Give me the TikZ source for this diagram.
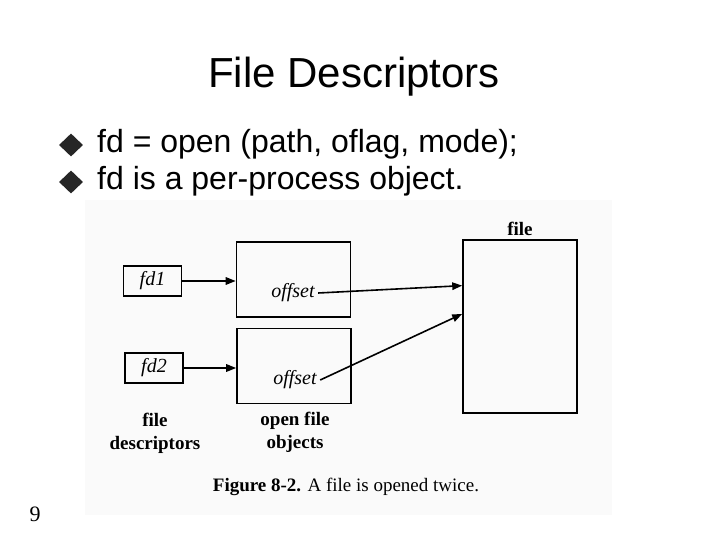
\documentclass[tikz,border=0pt]{standalone}
\usepackage{fontspec}
\setmainfont{Liberation Serif}
\newfontfamily\slidefont{Liberation Sans}
\usetikzlibrary{arrows.meta,positioning,calc,shapes.geometric}

\begin{document}
\begin{tikzpicture}[
  x=1pt,y=-1pt,
  font=\fontsize{19}{22}\selectfont,
  fdbox/.style={draw,line width=1.6pt,minimum width=58pt,minimum height=30pt,inner sep=0pt,font=\fontsize{20}{22}\selectfont\itshape},
  objbox/.style={draw,line width=1.6pt,minimum width=114pt,minimum height=75pt,inner sep=0pt},
  filebox/.style={draw,line width=1.6pt,minimum width=114pt,minimum height=173pt,inner sep=0pt},
  lbl/.style={align=center,font=\fontsize{19}{23}\selectfont\bfseries},
  arr/.style={-{Triangle[length=10pt,width=7.5pt]},line width=1.6pt},
  bullet/.style={diamond,fill=black!85,inner sep=0pt,minimum width=24pt,minimum height=23pt},
  slide/.style={font=\slidefont\fontsize{32}{38}\selectfont},
]
\useasboundingbox[fill=white] (0,0) rectangle (720,540);
% scanned figure area
\fill[black!2] (85,200) rectangle (612,515);

\node[slide,anchor=base] (title) at (354,88) {\fontsize{42}{48}\selectfont File Descriptors};
\node[bullet] (b1) at (71,145) {};
\node[bullet] (b2) at (71,182) {};
\node[slide,anchor=base west,inner sep=0pt] (t1) at (97,153) {fd = open (path, oflag, mode);};
\node[slide,anchor=base west,inner sep=0pt] (t2) at (97,190) {fd is a per-process object.};

% descriptors, open file objects, file
\node[fdbox] (fd1) at (152.5,281) {fd1};
\node[fdbox] (fd2) at (154,368) {fd2};
\node[objbox] (obj1) at (293.5,279.5) {};
\node[objbox] (obj2) at (294,366) {};
\node[filebox] (file) at (520,326.5) {};
\node[font=\fontsize{20}{22}\selectfont\itshape] (off1) at (293,293) {offset};
\node[font=\fontsize{20}{22}\selectfont\itshape] (off2) at (295,380) {offset};
\node[lbl,above=0pt of file] (filelbl) {file};
\node[lbl] (fdlbl) at (155,433) {file\\descriptors};
\node[lbl] (objlbl) at (295,432) {open file\\objects};
\node[anchor=base] (caption) at (346,491) {\textbf{Figure 8-2.} A file is opened twice.};
\node[font=\fontsize{22}{26}\selectfont] (page) at (35,514) {9};

\coordinate (in1) at ($(file.north west)!0.266!(file.south west)$);
\coordinate (in2) at ($(file.north west)!0.428!(file.south west)$);
\draw[arr] (fd1.east) -- (fd1.east -| obj1.west);
\draw[arr] (fd2.east) -- (fd2.east -| obj2.west);
\draw[arr] (off1.east) -- (in1);
\draw[arr] (off2.east) -- (in2);
\end{tikzpicture}
\end{document}
